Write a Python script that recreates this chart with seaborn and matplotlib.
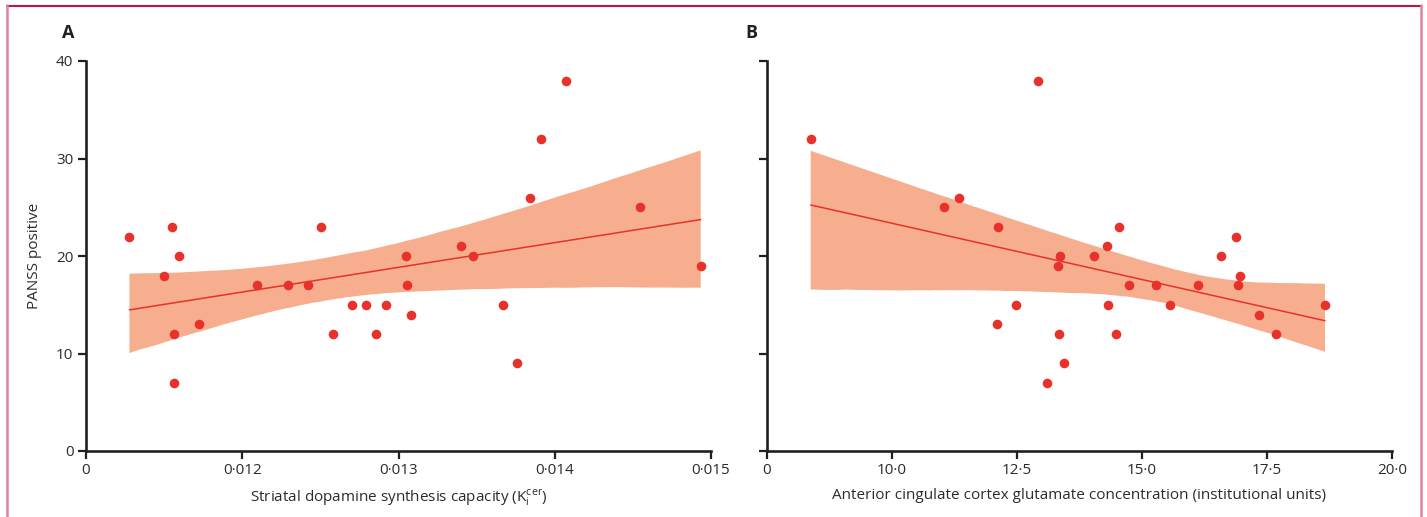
import numpy as np
import pandas as pd
import matplotlib
matplotlib.use("Agg")
import matplotlib.pyplot as plt
from matplotlib.lines import Line2D
import seaborn as sns

# --- data ---
# Panel A: striatal dopamine synthesis capacity vs PANSS positive
dopamine_ki = [0.011278, 0.011549, 0.011592, 0.012504, 0.013045, 0.013397, 0.013479,
               0.014071, 0.013910, 0.013840, 0.014543, 0.011496, 0.011560, 0.011560,
               0.011720, 0.012092, 0.012293, 0.012423, 0.012583, 0.012703, 0.012795,
               0.012855, 0.012917, 0.013056, 0.013077, 0.013669, 0.013761, 0.014934]
panss_a = [22, 23, 20, 23, 20, 21, 20,
           38, 32, 26, 25, 18, 12, 7,
           13, 17, 17, 17, 12, 15, 15,
           12, 15, 17, 14, 15, 9, 19]

# Panel B: anterior cingulate glutamate vs PANSS positive
glutamate = [8.374, 12.927, 11.033, 11.333, 12.127, 13.353, 13.32,
             12.487, 12.093, 13.34, 13.433, 13.093, 14.533, 14.30,
             14.047, 16.88, 16.587, 16.96, 14.747, 15.28, 16.12,
             16.92, 14.313, 15.567, 18.66, 17.333, 14.48, 17.673]
panss_b = [32, 38, 25, 26, 23, 20, 19,
           15, 13, 12, 9, 7, 23, 21,
           20, 22, 20, 18, 17, 17, 17,
           17, 15, 15, 15, 14, 12, 12]

a_ticks = [0.011, 0.012, 0.013, 0.014, 0.015]
a_ticklabels = ["0", "0·012", "0·013", "0·014", "0·015"]
b_ticks = [7.5, 10.0, 12.5, 15.0, 17.5, 20.0]
b_ticklabels = ["0", "10·0", "12·5", "15·0", "17·5", "20·0"]
y_ticks = [0, 10, 20, 30, 40]

df_a = pd.DataFrame({"x": dopamine_ki, "y": panss_a})
df_b = pd.DataFrame({"x": glutamate, "y": panss_b})

# --- style ---
sns.set_style("ticks")
plt.rcParams["font.family"] = ["Open Sans", "DejaVu Sans"]
plt.rcParams["mathtext.fontset"] = "custom"
plt.rcParams["mathtext.rm"] = "Open Sans"

RED = "#E8312A"
BAND = "#F7AE8E"
INK = "#231F20"
TXT = "#2B2B2B"

W, H = 1427, 517
fig = plt.figure(figsize=(W / 100, H / 100), dpi=100)
ax_a = fig.add_axes([86 / W, 1 - 451 / H, 625 / W, 390 / H])
ax_b = fig.add_axes([767 / W, 1 - 451 / H, 625 / W, 390 / H])


def draw_panel(ax, df, xlim, ticks, ticklabels, xlabel):
    # regression line + 95% CI band, then the points on top
    sns.regplot(data=df, x="x", y="y", ax=ax, scatter=False, ci=95,
                n_boot=6000, seed=3, color=RED, line_kws={"lw": 1.1, "zorder": 3})
    band = ax.collections[-1]
    band.set_facecolor(BAND)
    band.set_alpha(1)
    band.set_edgecolor("none")
    band.set_zorder(2)
    sns.scatterplot(data=df, x="x", y="y", ax=ax, color=RED, s=48,
                    linewidth=0, zorder=4)
    ax.set_xlim(*xlim)
    ax.set_ylim(0, 40)
    ax.set_xticks(ticks)
    ax.set_xticklabels(ticklabels)
    ax.set_yticks(y_ticks)
    sns.despine(ax=ax)
    for side in ("left", "bottom"):
        ax.spines[side].set_linewidth(1.9)
        ax.spines[side].set_color(INK)
    ax.tick_params(direction="out", length=6, width=1.6, color=INK,
                   labelcolor=TXT, labelsize=11, pad=3)
    ax.set_xlabel(xlabel, fontsize=11, color=TXT)
    ax.xaxis.set_label_coords(0.5, -0.095)
    ax.set_ylabel("")


draw_panel(ax_a, df_a, (0.011, 0.015), a_ticks, a_ticklabels,
           r"Striatal dopamine synthesis capacity (K$_\mathregular{i}^\mathregular{cer}$)")
draw_panel(ax_b, df_b, (7.5, 20.0), b_ticks, b_ticklabels,
           "Anterior cingulate cortex glutamate concentration (institutional units)")

ax_a.set_ylabel("PANSS positive", fontsize=11, color=TXT)
ax_a.yaxis.set_label_coords(-0.070, 0.5)
ax_b.set_yticklabels([])

fig.text(68 / W, 1 - 33 / H, "A", fontsize=13, fontweight="bold", color=INK,
         ha="center", va="center")
fig.text(751 / W, 1 - 33 / H, "B", fontsize=13, fontweight="bold", color=INK,
         ha="center", va="center")

# page frame
fig.add_artist(Line2D([7 / W, 1421 / W], [1 - 5.5 / H, 1 - 5.5 / H],
                      transform=fig.transFigure, color="#B8174B", lw=1.5))
fig.add_artist(Line2D([6.5 / W, 6.5 / W], [0, 1 - 5 / H],
                      transform=fig.transFigure, color="#DC82A2", lw=1.8))
fig.add_artist(Line2D([1421 / W, 1421 / W], [0, 1 - 5 / H],
                      transform=fig.transFigure, color="#DC82A2", lw=1.8))

fig.savefig("out.png", dpi=100)
